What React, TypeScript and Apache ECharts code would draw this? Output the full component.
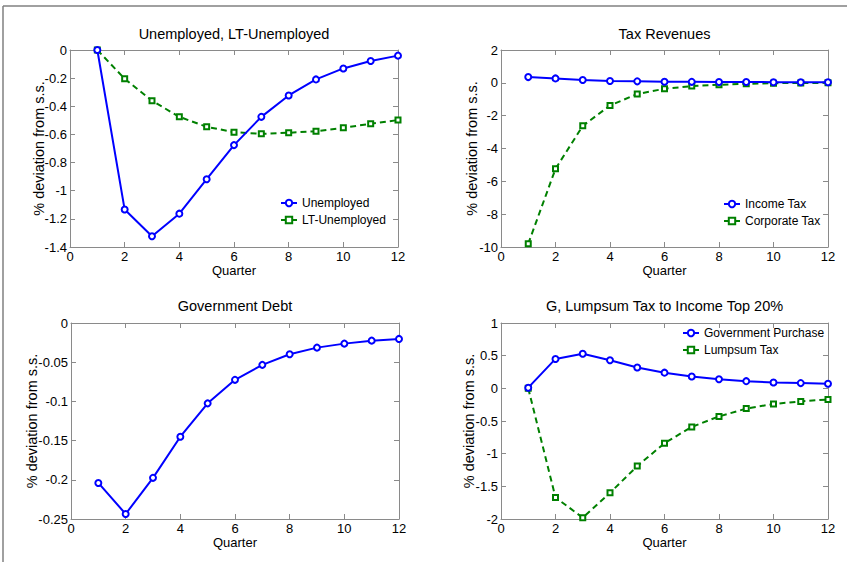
import React, { useEffect, useRef } from "react";
import * as echarts from "echarts";

const quarters = [1, 2, 3, 4, 5, 6, 7, 8, 9, 10, 11, 12];

const unemployed = [0, -1.134, -1.324, -1.163, -0.918, -0.676, -0.475, -0.323, -0.209, -0.131, -0.078, -0.04];
const ltUnemployed = [0, -0.204, -0.361, -0.475, -0.546, -0.584, -0.596, -0.588, -0.577, -0.553, -0.524, -0.498];

const incomeTax = [0.35, 0.27, 0.17, 0.11, 0.09, 0.07, 0.06, 0.05, 0.05, 0.04, 0.04, 0.04];
const corporateTax = [-9.8, -5.24, -2.62, -1.38, -0.68, -0.36, -0.2, -0.12, -0.06, -0.02, -0.01, 0.0];

const govDebt = [-0.204, -0.2436, -0.1975, -0.145, -0.1025, -0.0725, -0.0534, -0.0398, -0.0314, -0.0263, -0.0225, -0.0203];

const govPurchase = [0.01, 0.45, 0.53, 0.43, 0.32, 0.24, 0.18, 0.14, 0.11, 0.09, 0.08, 0.07];
const lumpsumTax = [0.0, -1.67, -1.98, -1.6, -1.19, -0.84, -0.59, -0.43, -0.31, -0.24, -0.2, -0.17];

const titles = ["Unemployed, LT-Unemployed", "Tax Revenues", "Government Debt", "G, Lumpsum Tax to Income Top 20%"];
const yRanges = [
  { min: -1.4, max: 0, interval: 0.2 },
  { min: -10, max: 2, interval: 2 },
  { min: -0.25, max: 0, interval: 0.05 },
  { min: -2, max: 1, interval: 0.5 },
];
const xRange = { min: 0, max: 12, interval: 2 };
const yName = "% deviation from s.s.";
const xName = "Quarter";

const FONT = "'Liberation Sans', Arial, Helvetica, sans-serif";
const BLUE = "#0000ff";
const GREEN = "#008000";
const AXIS = "#8a8a8a";

const grids = [
  { left: 70, top: 50, width: 328, height: 197 },
  { left: 501, top: 50, width: 327, height: 197 },
  { left: 71, top: 323, width: 328, height: 196 },
  { left: 501, top: 323, width: 327, height: 196 },
];
const yNameGaps = [24, 22, 32, 25];

const fmt = (v: number) => String(+v.toFixed(4));

export default function App() {
  const ref = useRef<HTMLDivElement>(null);
  useEffect(() => {
    document.body.style.margin = "0";
    const chart = echarts.init(ref.current!, null, { renderer: "svg" });

    const xAxes: any[] = [];
    const yAxes: any[] = [];
    grids.forEach((g, i) => {
      const common = {
        gridIndex: i,
        type: "value",
        splitLine: { show: false },
        axisLine: { show: true, onZero: false, lineStyle: { color: AXIS, width: 1 } },
        axisTick: { show: true, inside: true, length: 5, lineStyle: { color: AXIS } },
        minorTick: { show: false },
      };
      xAxes.push({
        ...common,
        position: "bottom",
        ...xRange,
        name: xName,
        nameLocation: "middle",
        nameGap: 17,
        nameMoveOverlap: false,
        nameTextStyle: { fontFamily: FONT, fontSize: 13, color: "#000" },
        axisLabel: { show: true, margin: 3, fontFamily: FONT, fontSize: 13, color: "#000", formatter: fmt },
      });
      xAxes.push({ ...common, position: "top", ...xRange, axisLabel: { show: false } });
      yAxes.push({
        ...common,
        position: "left",
        ...yRanges[i],
        name: yName,
        nameLocation: "middle",
        nameGap: yNameGaps[i],
        nameMoveOverlap: false,
        nameTextStyle: { fontFamily: FONT, fontSize: 14.5, color: "#000" },
        axisLabel: { show: true, margin: 3, fontFamily: FONT, fontSize: 13, color: "#000", formatter: fmt },
      });
      yAxes.push({ ...common, position: "right", ...yRanges[i], axisLabel: { show: false } });
    });

    const mk = (name: string, data: number[], idx: number, green: boolean) => ({
      name,
      type: "line",
      xAxisIndex: idx * 2,
      yAxisIndex: idx * 2,
      data: quarters.map((q, k) => [q, data[k]]),
      symbol: green ? "emptyRect" : "emptyCircle",
      symbolSize: green ? 5 : 6,
      showSymbol: true,
      lineStyle: { color: green ? GREEN : BLUE, width: 2, type: green ? [6, 4] : "solid" },
      itemStyle: { color: green ? GREEN : BLUE, borderWidth: green ? 2 : 1.8 },
      emphasis: { disabled: true },
      z: green ? 2 : 3,
    });

    const legendCommon = {
      orient: "vertical",
      itemWidth: 16,
      itemHeight: 8,
      itemGap: 5,
      textStyle: { fontFamily: FONT, fontSize: 12, color: "#000" },
      padding: 0,
      selectedMode: false,
    };

    const option: any = {
      animation: false,
      backgroundColor: "#fff",
      title: titles.map((t, i) => ({
        text: t,
        left: grids[i].left + grids[i].width / 2,
        textAlign: "center",
        top: i < 2 ? 26 : 298,
        padding: 0,
        textStyle: { fontFamily: FONT, fontSize: 14.5, fontWeight: "normal", color: "#000" },
      })),
      grid: grids.map((g) => ({ ...g, containLabel: false })),
      xAxis: xAxes,
      yAxis: yAxes,
      legend: [
        { ...legendCommon, data: ["Unemployed", "LT-Unemployed"], left: 280, top: 197 },
        { ...legendCommon, data: ["Income Tax", "Corporate Tax"], left: 723, top: 198 },
        { ...legendCommon, data: ["Government Purchase", "Lumpsum Tax"], left: 682, top: 327 },
      ],
      series: [
        mk("Unemployed", unemployed, 0, false),
        mk("LT-Unemployed", ltUnemployed, 0, true),
        mk("Income Tax", incomeTax, 1, false),
        mk("Corporate Tax", corporateTax, 1, true),
        mk("Government Debt", govDebt, 2, false),
        mk("Government Purchase", govPurchase, 3, false),
        mk("Lumpsum Tax", lumpsumTax, 3, true),
      ],
      graphic: [
        { type: "line", shape: { x1: 3, y1: 6, x2: 847, y2: 6 }, style: { stroke: "#808080", lineWidth: 1.5 }, silent: true },
        { type: "line", shape: { x1: 3, y1: 6, x2: 3, y2: 562 }, style: { stroke: "#808080", lineWidth: 1.5 }, silent: true },
      ],
    };
    chart.setOption(option);
    return () => chart.dispose();
  }, []);
  return <div ref={ref} style={{ width: 848, height: 562 }} />;
}
